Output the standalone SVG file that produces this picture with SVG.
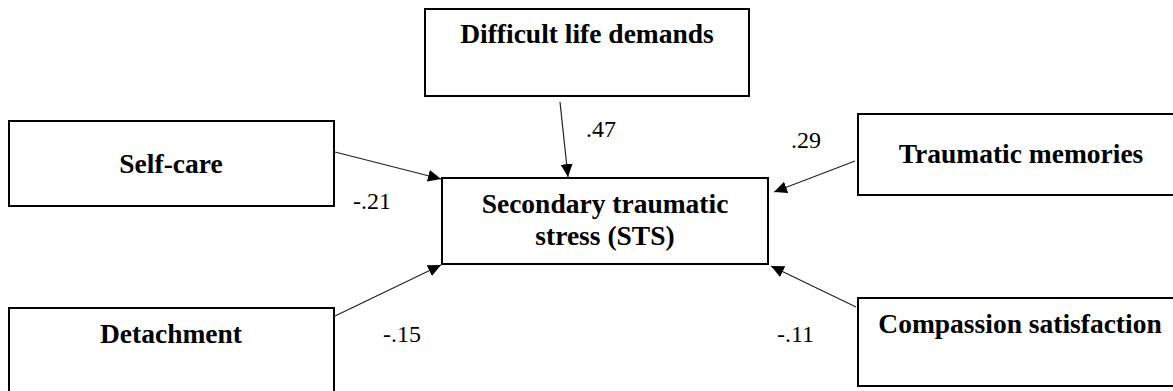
<svg xmlns="http://www.w3.org/2000/svg" width="1173" height="391" viewBox="0 0 1173 391">
<style>
.box{fill:#fff;stroke:#000;stroke-width:2}
.lbl{font-family:"Liberation Serif","Times New Roman",serif;font-weight:bold;font-size:27.5px;fill:#000;text-anchor:middle}
.num{font-family:"Liberation Serif","Times New Roman",serif;font-size:24px;fill:#000}
.edge{stroke:#222;stroke-width:1.2;fill:none;marker-end:url(#arr)}
</style>
<defs>
<marker id="arr" markerUnits="userSpaceOnUse" markerWidth="14" markerHeight="12" refX="13" refY="6" orient="auto">
<path d="M0,0 L13,6 L0,12 z" fill="#000"/>
</marker>
</defs>
<rect width="1173" height="391" fill="#fff"/>
<g id="node-difficult">
<rect class="box" x="425" y="9" width="324" height="87"/>
<text class="lbl" x="587" y="43">Difficult life demands</text>
</g>
<g id="node-selfcare">
<rect class="box" x="9" y="121" width="325" height="85"/>
<text class="lbl" x="171" y="173">Self-care</text>
</g>
<g id="node-sts">
<rect class="box" x="442" y="178" width="326" height="86"/>
<text class="lbl" x="605" y="213">Secondary traumatic</text>
<text class="lbl" x="605" y="245">stress (STS)</text>
</g>
<g id="node-traumatic">
<rect class="box" x="858" y="114" width="326" height="81"/>
<text class="lbl" x="1021" y="163">Traumatic memories</text>
</g>
<g id="node-detachment">
<rect class="box" x="9" y="308" width="325" height="90"/>
<text class="lbl" x="171" y="343">Detachment</text>
</g>
<g id="node-compassion">
<rect class="box" x="858" y="298" width="326" height="88"/>
<text class="lbl" x="1020" y="333">Compassion satisfaction</text>
</g>
<g id="connectors">
<line class="edge" x1="335" y1="152" x2="441" y2="179"/>
<line class="edge" x1="560" y1="102" x2="568" y2="177"/>
<line class="edge" x1="855" y1="161" x2="774" y2="192"/>
<line class="edge" x1="335" y1="316" x2="441" y2="265"/>
<line class="edge" x1="856" y1="307" x2="771" y2="266"/>
<text class="num" x="586" y="137">.47</text>
<text class="num" x="791" y="148">.29</text>
<text class="num" x="353" y="209">-.21</text>
<text class="num" x="383" y="342">-.15</text>
<text class="num" x="777" y="342">-.11</text>
</g>
</svg>
